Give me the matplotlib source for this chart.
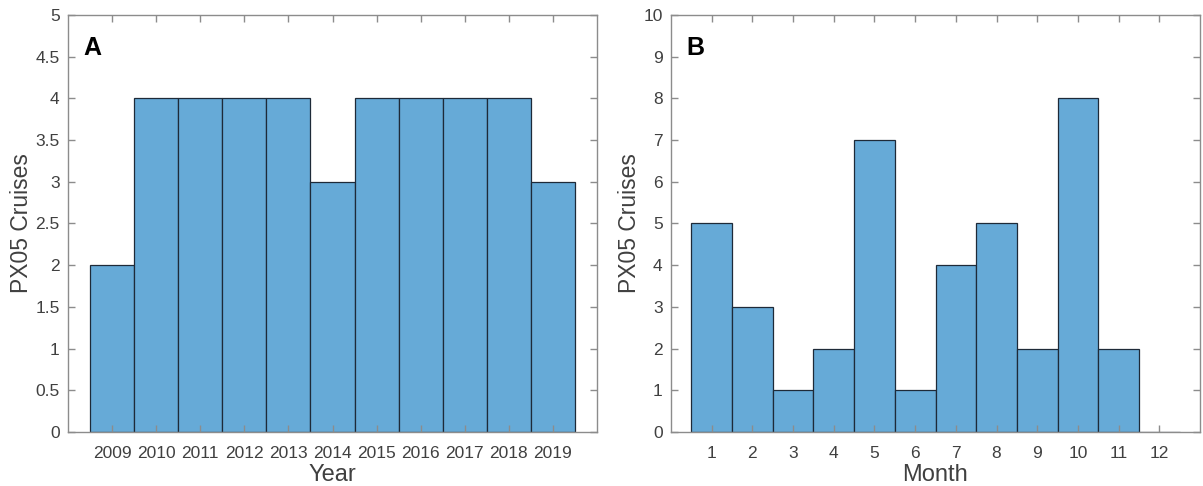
import numpy as np
import matplotlib.pyplot as plt

plt.rcParams['font.family'] = ['Liberation Sans', 'DejaVu Sans']

# cruise counts per year and per month
years = [2009, 2010, 2011, 2012, 2013, 2014, 2015, 2016, 2017, 2018, 2019]
year_counts = [2, 4, 4, 4, 4, 3, 4, 4, 4, 4, 3]

months = [1, 2, 3, 4, 5, 6, 7, 8, 9, 10, 11, 12]
month_counts = [5, 3, 1, 2, 7, 1, 4, 5, 2, 8, 2, 0]

bar_color = '#66aad7'
edge_color = '#1e2a38'
axis_color = '#8c8c8c'
text_color = '#404040'

fig = plt.figure(figsize=(12.03, 4.86), dpi=100)
W, H = 1203, 486
axA = fig.add_axes([68 / W, 1 - 432 / H, 529 / W, 417 / H])
axB = fig.add_axes([671 / W, 1 - 432 / H, 529 / W, 417 / H])


def style(ax):
    for s in ax.spines.values():
        s.set_color(axis_color)
        s.set_linewidth(1.0)
    ax.tick_params(direction='in', length=5, width=1, color=axis_color,
                   labelcolor=text_color, labelsize=12.5, top=True, right=True)
    ax.tick_params(axis='x', pad=10)
    ax.tick_params(axis='y', pad=6)


axA.bar(years, year_counts, width=1.0, color=bar_color, edgecolor=edge_color,
        linewidth=0.9)
axA.set_xlim(2008, 2020)
axA.set_ylim(0, 5)
axA.set_xticks(years)
axA.set_yticks(np.arange(0, 5.01, 0.5))
axA.set_yticklabels(['0', '0.5', '1', '1.5', '2', '2.5', '3', '3.5', '4', '4.5', '5'])
axA.set_xlabel('Year', fontsize=17, color=text_color, labelpad=2)
axA.set_ylabel('PX05 Cruises', fontsize=16.5, color=text_color, labelpad=2)
axA.text(0.03, 0.95, 'A', transform=axA.transAxes, fontsize=18,
         fontweight='bold', va='top', ha='left', color='black')
style(axA)

axB.bar(months, month_counts, width=1.0, color=bar_color, edgecolor=edge_color,
        linewidth=0.9)
axB.set_xlim(0, 13)
axB.set_ylim(0, 10)
axB.set_xticks(months)
axB.set_yticks(range(0, 11))
axB.set_xlabel('Month', fontsize=17, color=text_color, labelpad=2)
axB.set_ylabel('PX05 Cruises', fontsize=16.5, color=text_color, labelpad=2)
axB.text(0.03, 0.95, 'B', transform=axB.transAxes, fontsize=18,
         fontweight='bold', va='top', ha='left', color='black')
style(axB)

plt.savefig('out.png', dpi=100)
